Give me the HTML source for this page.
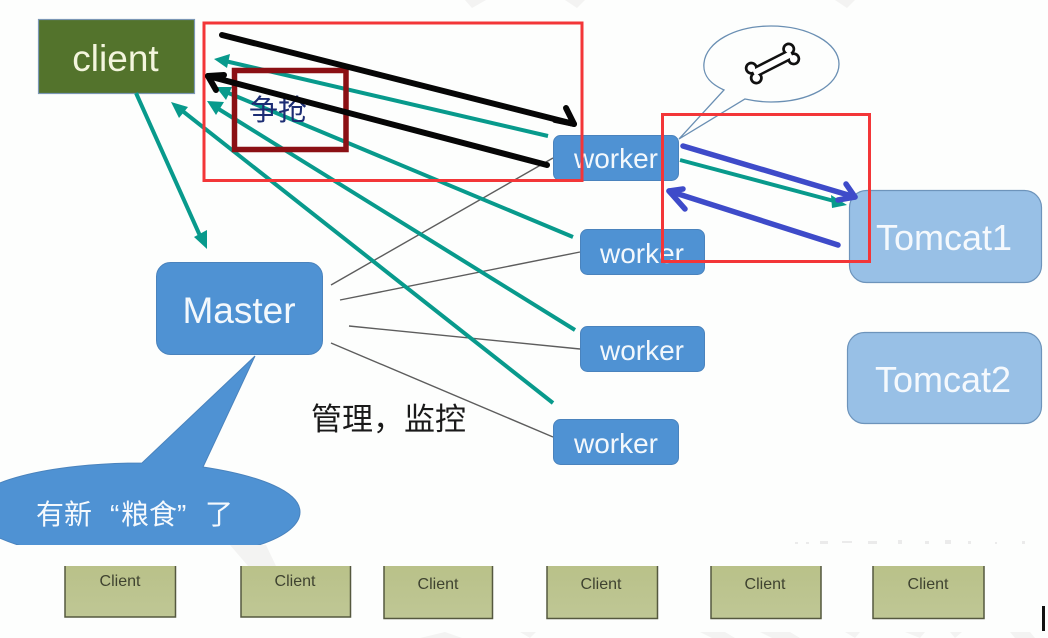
<!DOCTYPE html>
<html lang="zh">
<head>
<meta charset="utf-8">
<style>
html,body{margin:0;padding:0;background:#fdfefd}
svg{display:block}
text{font-family:"Liberation Sans","Noto Sans CJK SC",sans-serif}
</style>
</head>
<body>
<svg width="1048" height="638" viewBox="0 0 1048 638" xmlns="http://www.w3.org/2000/svg">
<defs>
<linearGradient id="cg" x1="0" y1="0" x2="0" y2="1"><stop offset="0" stop-color="#b9c189"/><stop offset="1" stop-color="#bfc795"/></linearGradient>
<clipPath id="cc"><rect x="-5" y="340" width="400" height="205"/></clipPath>
</defs>
<rect width="1048" height="638" fill="#fdfefd"/>

<!-- watermark -->
<g fill="#f3f3f2">
<polygon points="465,0 486,0 472,8"/>
<polygon points="565,0 585,0 577,8"/>
<polygon points="835,0 855,0 847,8"/>
<polygon points="230,545 266,545 276,566 248,566"/>
<polygon points="420,638 445,632 462,638"/>
<polygon points="520,632 536,632 530,638"/>
<polygon points="700,632 725,632 735,638 712,638"/>
<polygon points="760,632 790,632 800,638 772,638"/>
<polygon points="845,632 860,632 855,638"/>
<polygon points="905,632 925,632 920,638"/>
<polygon points="950,632 962,632 955,638"/>
<polygon points="1010,632 1030,632 1035,638 1015,638"/>
</g>
<g fill="#ebebeb">
<rect x="795" y="542" width="3" height="2"/><rect x="806" y="542" width="3" height="2"/><rect x="820" y="541" width="8" height="3"/><rect x="842" y="541" width="10" height="2"/><rect x="868" y="541" width="9" height="3"/><rect x="898" y="540" width="4" height="4"/><rect x="925" y="541" width="4" height="3"/><rect x="945" y="540" width="6" height="4"/><rect x="968" y="541" width="3" height="3"/><rect x="995" y="542" width="2" height="2"/><rect x="1022" y="541" width="3" height="3"/>
</g>

<!-- gray manager lines -->
<g stroke="#5d5d5d" stroke-width="1.4" fill="none">
<line x1="331" y1="285" x2="553" y2="158"/>
<line x1="340" y1="300" x2="580" y2="252"/>
<line x1="349" y1="326" x2="580" y2="349"/>
<line x1="331" y1="343" x2="553" y2="437"/>
</g>

<!-- client -->
<rect x="38.5" y="19.5" width="156" height="74" fill="#53732c" stroke="#7b97b5" stroke-width="1.2"/>
<text x="115.500" y="71" font-size="37" fill="#f3f5dd" text-anchor="middle">client</text>

<!-- master -->
<rect x="156.5" y="262.5" width="166" height="92" rx="14" fill="#4f92d3" stroke="#4a83bd" stroke-width="1"/>
<text x="239" y="323" font-size="37" fill="#f3f8fc" text-anchor="middle">Master</text>

<!-- workers -->
<g fill="#4f92d3" stroke="#4a83bd" stroke-width="1">
<rect x="553.5" y="135.5" width="125" height="45" rx="7"/>
<rect x="580.5" y="229.5" width="124" height="45" rx="7"/>
<rect x="580.5" y="326.5" width="124" height="45" rx="7"/>
<rect x="553.5" y="419.5" width="125" height="45" rx="7"/>
</g>
<g font-size="28" fill="#f3f8fc" text-anchor="middle">
<text x="616" y="168">worker</text>
<text x="642" y="263">worker</text>
<text x="642" y="360">worker</text>
<text x="616" y="453">worker</text>
</g>

<!-- tomcats -->
<g fill="#98c0e6" stroke="#6d94bb" stroke-width="1.2">
<rect x="849.5" y="190.5" width="192" height="92" rx="17"/>
<rect x="847.5" y="332.5" width="194" height="91" rx="17"/>
</g>
<g font-size="36" fill="#f5f9fd" text-anchor="middle">
<text x="944" y="250">Tomcat1</text>
<text x="943" y="392">Tomcat2</text>
</g>

<!-- bubble -->
<path d="M724,90 C706,82 703,72 704,63 C706,42 735,26 771,26 C808,26 839,43 839,64 C839,86 808,102 771,102 C762,102 752,100.500 745,99 L679,139 Z" fill="#fdfefd" stroke="#6a8fb3" stroke-width="1.3"/>
<g transform="translate(772.500,63.500) rotate(-27)">
<g fill="#111">
<rect x="-21" y="-5.500" width="42" height="11"/>
<circle cx="-21" cy="-5.500" r="6.500"/><circle cx="-21" cy="5.500" r="6.500"/>
<circle cx="21" cy="-5.500" r="6.500"/><circle cx="21" cy="5.500" r="6.500"/>
</g>
<g fill="#fff">
<rect x="-21" y="-3" width="42" height="6"/>
<circle cx="-21" cy="-5.500" r="3.800"/><circle cx="-21" cy="5.500" r="3.800"/>
<circle cx="21" cy="-5.500" r="3.800"/><circle cx="21" cy="5.500" r="3.800"/>
</g>
</g>

<!-- teal arrows -->
<g stroke="#089a8c" stroke-width="4" fill="none">
<line x1="548" y1="136" x2="225" y2="61"/>
<line x1="573" y1="237" x2="226" y2="92"/>
<line x1="575" y1="330" x2="217" y2="108"/>
<line x1="553" y1="403" x2="180" y2="109"/>
<line x1="136" y1="93" x2="201" y2="238"/>
<line x1="680" y1="160" x2="834" y2="201"/>
</g>
<g fill="#089a8c">
<polygon points="214,59 230,54 227,68"/>
<polygon points="216,87 232,87 226,100"/>
<polygon points="207,101 224,102 216,115"/>
<polygon points="171,102 188,107 179,118"/>
<polygon points="207,249 194,237 207,230"/>
<polygon points="847,205 831,195 832,208"/>
</g>

<!-- red frame 1 -->
<rect x="204" y="23" width="378" height="157.500" fill="none" stroke="#f33638" stroke-width="3"/>
<!-- dark red frame -->
<rect x="234.500" y="70.500" width="111.500" height="79" fill="none" stroke="#8b1014" stroke-width="5.500"/>
<text x="278" y="120" font-size="29" fill="#1c2d74" text-anchor="middle">争抢</text>

<!-- black arrows -->
<g stroke="#060606" stroke-width="6" fill="none" stroke-linecap="round" stroke-linejoin="round">
<line x1="222" y1="35" x2="574" y2="124"/>
<polyline points="566,108 574,124 555,120"/>
<line x1="547" y1="165" x2="208" y2="76"/>
<polyline points="216,90 208,76 224,75"/>
</g>

<!-- red frame 2 -->
<rect x="662.500" y="114.500" width="207" height="147" fill="none" stroke="#f33638" stroke-width="3"/>

<!-- blue arrows -->
<g stroke="#3e4bc9" stroke-width="5.500" fill="none" stroke-linecap="round" stroke-linejoin="round">
<line x1="683" y1="146" x2="855" y2="197"/>
<polyline points="846,184 855,197 838,200"/>
<line x1="838" y1="245" x2="669" y2="191"/>
<polyline points="685,209 669,191 683,189"/>
</g>

<!-- callout -->
<g clip-path="url(#cc)">
<path d="M142,463 L255,356 L203,467 C262,476 300,492 300,512 C300,535 250,560 130,560 C40,560 -30,535 -30,510 C-30,482 50,463 142,463 Z" fill="#4f92d3" stroke="#4a83bd" stroke-width="1"/>
</g>
<g font-size="28" fill="#f5f9fd">
<text x="36" y="524">有新</text>
<text x="110" y="524">“</text>
<text x="121" y="524">粮食</text>
<text x="177" y="524">”</text>
<text x="205" y="524">了</text>
</g>

<!-- manage label -->
<text x="311" y="430" font-size="31" fill="#1a1a1a">管理，监控</text>

<!-- bottom clients -->
<g fill="url(#cg)" stroke="#55583f" stroke-width="1.500">
<path d="M65,566 V617 H175.500 V566"/>
<path d="M241,566 V617 H350.500 V566"/>
<path d="M384,566 V618.500 H492.500 V566"/>
<path d="M547,566 V618.500 H657.500 V566"/>
<path d="M711,566 V618.500 H821 V566"/>
<path d="M873,566 V618.500 H984 V566"/>
</g>
<g font-size="16" fill="#3f4330" text-anchor="middle">
<text x="120" y="586">Client</text>
<text x="295" y="586">Client</text>
<text x="438" y="589">Client</text>
<text x="601" y="589">Client</text>
<text x="765" y="589">Client</text>
<text x="928" y="589">Client</text>
</g>

<!-- bottom right mark -->
<rect x="1042" y="606" width="3" height="25" fill="#111"/>
</svg>
</body>
</html>
